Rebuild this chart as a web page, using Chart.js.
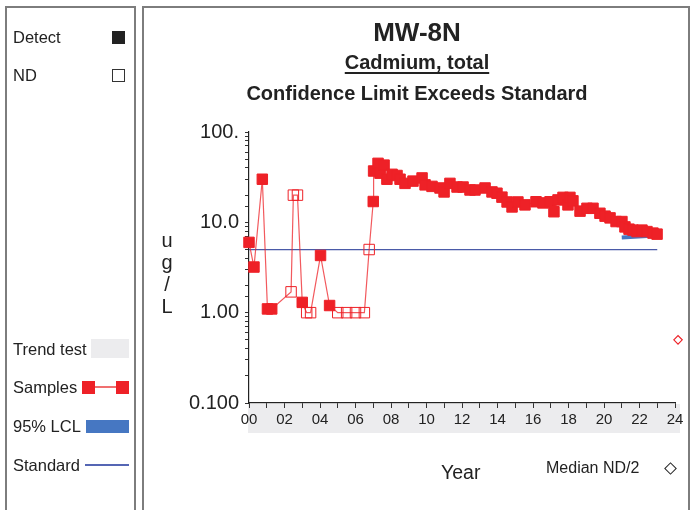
<!DOCTYPE html>
<html>
<head>
<meta charset="utf-8">
<script src="https://cdn.jsdelivr.net/npm/chart.js@4.4.1/dist/chart.umd.min.js"></script>
<style>
  html, body { margin: 0; padding: 0; background: #fff; }
  body { width: 691px; height: 510px; position: relative; overflow: hidden;
         font-family: 'Liberation Sans', Arial, sans-serif; color: #222; }
  #plot { position: absolute; left: 0; top: 0; width: 691px; height: 510px; z-index: 0; }
  .abs { position: absolute; z-index: 1; white-space: nowrap; }
  .panel { position: absolute; border: 2px solid #7d7d7d; z-index: 1; }
  .lg { font-size: 16.5px; line-height: 20px; }
  .ttl { font-weight: bold; text-align: center; left: 144px; width: 546px; }
</style>
</head>
<body>
<canvas id="plot" width="691" height="510"></canvas>

<!-- panels -->
<div class="panel" style="left:5px; top:6px; width:127px; height:520px;"></div>
<div class="panel" style="left:142px; top:6px; width:544px; height:520px;"></div>

<!-- legend panel -->
<div class="abs lg" style="left:13px; top:27px;">Detect</div>
<div class="abs" style="left:112px; top:31px; width:13px; height:13px; background:#222;"></div>
<div class="abs lg" style="left:13px; top:65px;">ND</div>
<div class="abs" style="left:112px; top:69px; width:11px; height:11px; border:1px solid #333;"></div>

<div class="abs lg" style="left:13px; top:339px;">Trend test</div>
<div class="abs" style="left:91px; top:339px; width:38px; height:19px; background:#ececee;"></div>
<div class="abs lg" style="left:13px; top:377px;">Samples</div>
<div class="abs" style="left:95px; top:386px; width:21px; height:1.5px; background:#f07070;"></div>
<div class="abs" style="left:82px; top:381px; width:13px; height:13px; background:#ee2127;"></div>
<div class="abs" style="left:116px; top:381px; width:13px; height:13px; background:#ee2127;"></div>
<div class="abs lg" style="left:13px; top:416px;">95% LCL</div>
<div class="abs" style="left:86px; top:420px; width:43px; height:13px; background:#4677c2;"></div>
<div class="abs lg" style="left:13px; top:455px;">Standard</div>
<div class="abs" style="left:85px; top:464px; width:44px; height:1.5px; background:#5566b4;"></div>

<!-- titles -->
<div class="abs ttl" style="top:17px; font-size:26px; line-height:30px;">MW-8N</div>
<div class="abs ttl" style="top:51px; font-size:20px; line-height:22px;"><span style="text-decoration:underline; text-underline-offset:3px;">Cadmium, total</span></div>
<div class="abs ttl" style="top:82px; font-size:20px; line-height:22px;">Confidence Limit Exceeds Standard</div>

<!-- y axis unit, stacked -->
<div class="abs" style="left:157px; top:229px; width:20px; text-align:center; font-size:20px; line-height:22px;">u<br>g<br>/<br>L</div>

<!-- x axis title and median marker note -->
<div class="abs" style="left:441px; top:461px; font-size:19.5px; line-height:22px;">Year</div>
<div class="abs" style="left:546px; top:458px; font-size:16px; line-height:20px;">Median ND/2</div>
<div class="abs" style="left:666px; top:464px; width:7px; height:7px; border:1px solid #222; transform:rotate(45deg);"></div>

<script>
// Sample history: decimal years since 2000, concentration in ug/L, detect flag (1 = detect, 0 = ND)
const sampleYears = [
  0.00, 0.28, 0.75, 1.04, 1.28, 2.37, 2.50, 2.73, 3.00, 3.25, 3.47, 4.03, 4.54,
  5.00, 5.50, 6.00, 6.50, 6.77, 7.00, 7.02, 7.27, 7.38, 7.61, 7.77, 8.06, 8.34,
  8.51, 8.79, 9.24, 9.75, 9.92, 10.31, 10.76, 10.99, 11.32, 11.72, 12.06, 12.45,
  12.73, 13.30, 13.69, 13.97, 14.25, 14.54, 14.82, 15.15, 15.55, 16.17, 16.56,
  16.96, 17.18, 17.41, 17.69, 17.97, 18.08, 18.25, 18.65, 19.04, 19.38, 19.77,
  20.06, 20.34, 20.68, 21.01, 21.18, 21.41, 21.63, 21.86, 22.14, 22.42, 22.76, 22.99
];
const sampleValues = [
  6.0, 3.2, 30, 1.1, 1.1, 1.7, 20, 20, 1.3, 1.0, 1.0, 4.3, 1.2,
  1.0, 1.0, 1.0, 1.0, 5.0, 17, 37, 45, 35, 43, 30, 34, 33,
  30, 27, 28.6, 31, 26, 25, 24, 21.7, 27, 24.6, 24.6, 22.8,
  22.8, 24, 21.7, 21, 19, 16.8, 14.8, 16.8, 15.6, 16.9, 16.4,
  16.9, 13.1, 17.7, 18.9, 15.6, 18.9, 17.3, 13.3, 14.3, 14.3, 12.6,
  11.7, 11.2, 10.2, 10.2, 8.9, 8.4, 8.2, 7.9, 8.2, 7.9, 7.6, 7.4
];
const sampleDetected = [
  1, 1, 1, 1, 1, 0, 0, 0, 1, 0, 0, 1, 1,
  0, 0, 0, 0, 0, 1, 1, 1, 1, 1, 1, 1, 1,
  1, 1, 1, 1, 1, 1, 1, 1, 1, 1, 1, 1,
  1, 1, 1, 1, 1, 1, 1, 1, 1, 1, 1,
  1, 1, 1, 1, 1, 1, 1, 1, 1, 1, 1,
  1, 1, 1, 1, 1, 1, 1, 1, 1, 1, 1, 1
];

// Groundwater protection standard, drawn across the sampling record
const standardValue = 5.0;
const standardYears = [0, 23.0];

// 95% lower confidence limit over the recent compliance window
const lclYears = [21.0, 23.15];
const lclValues = [6.8, 7.2];

// Median of non-detects halved, plotted just past the axis end
const medianNdYear = 24.17;
const medianNdValue = 0.5;

// Axis tick labels
const xTickYears = [0, 2, 4, 6, 8, 10, 12, 14, 16, 18, 20, 22, 24];
const xTickLabels = ['00', '02', '04', '06', '08', '10', '12', '14', '16', '18', '20', '22', '24'];
const yTickValues = [0.1, 1, 10, 100];
const yTickLabels = ['0.100', '1.00', '10.0', '100.'];

const RED = '#ee2127';

const samplePoints = sampleYears.map((x, i) => ({ x, y: sampleValues[i] }));
const pointFill = sampleDetected.map(d => d ? RED : 'rgba(255,255,255,0)');

const trendBand = {
  id: 'trendBand',
  beforeDraw(chart) {
    const { ctx, chartArea } = chart;
    ctx.save();
    ctx.fillStyle = '#ececee';
    ctx.fillRect(chartArea.left - 1, chartArea.bottom + 1, chartArea.right - chartArea.left + 6, 29);
    ctx.restore();
  }
};

Chart.defaults.font.family = "'Liberation Sans', Arial, sans-serif";
Chart.defaults.color = '#222';

new Chart(document.getElementById('plot'), {
  type: 'line',
  data: {
    datasets: [
      {
        label: 'Samples',
        data: samplePoints,
        borderColor: 'rgba(238,33,39,0.75)',
        borderWidth: 1.2,
        pointStyle: 'rect',
        pointRadius: 7.4,
        pointBackgroundColor: pointFill,
        pointBorderColor: RED,
        pointBorderWidth: 1,
        tension: 0,
        clip: false,
        order: 0
      },
      {
        label: '95% LCL',
        data: lclYears.map((x, i) => ({ x, y: lclValues[i] })),
        borderColor: '#4677c2',
        borderWidth: 4,
        pointRadius: 0,
        clip: false,
        order: 1
      },
      {
        label: 'Standard',
        data: standardYears.map(x => ({ x, y: standardValue })),
        borderColor: '#4a5aa8',
        borderWidth: 1.2,
        pointRadius: 0,
        clip: false,
        order: 2
      },
      {
        label: 'Median ND/2',
        data: [{ x: medianNdYear, y: medianNdValue }],
        showLine: false,
        pointStyle: 'rectRot',
        pointRadius: 4.2,
        pointBackgroundColor: '#fff',
        pointBorderColor: RED,
        pointBorderWidth: 1.2,
        clip: false,
        order: 3
      }
    ]
  },
  options: {
    responsive: false,
    animation: false,
    events: [],
    layout: { padding: { left: 0, top: 132, right: 16, bottom: 0 } },
    plugins: { legend: { display: false }, tooltip: { enabled: false }, title: { display: false } },
    scales: {
      x: {
        type: 'linear',
        min: 0,
        max: 24,
        afterFit(scale) { scale.height = 107; },
        border: { display: true, color: '#222', width: 1.2 },
        grid: { drawOnChartArea: false, drawTicks: true, tickLength: 5, color: '#333', lineWidth: 1 },
        ticks: {
          stepSize: 1,
          autoSkip: false,
          maxRotation: 0,
          padding: 3,
          font: { size: 15 },
          color: '#222',
          callback(v) {
            const k = xTickYears.indexOf(v);
            return k >= 0 ? xTickLabels[k] : '';
          }
        }
      },
      y: {
        type: 'logarithmic',
        min: 0.1,
        max: 100,
        afterFit(scale) { scale.width = 249; },
        border: { display: true, color: '#222', width: 1.2 },
        grid: { drawOnChartArea: false, drawTicks: true, tickLength: 4, color: '#333', lineWidth: 1 },
        ticks: {
          autoSkip: false,
          padding: 6,
          font: { size: 20 },
          color: '#222',
          major: { enabled: false },
          callback(v) {
            const k = yTickValues.findIndex(t => Math.abs(t - v) < 1e-9 * Math.max(1, t));
            return k >= 0 ? yTickLabels[k] : '';
          }
        }
      }
    }
  },
  plugins: [trendBand]
});
</script>
</body>
</html>
